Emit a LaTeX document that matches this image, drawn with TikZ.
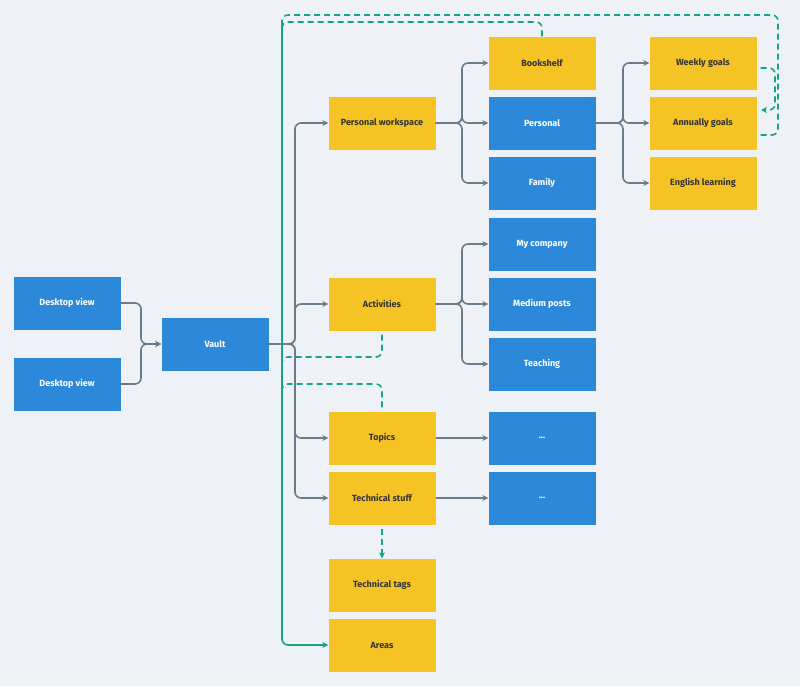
\documentclass[tikz,border=0pt]{standalone}
\usepackage{fontspec}
\setmainfont{Fira Sans}
\usetikzlibrary{arrows.meta, positioning, calc}
\definecolor{bg}{HTML}{EEF2F6}
\definecolor{ybox}{HTML}{F6C324}
\definecolor{bbox}{HTML}{2C88D9}
\definecolor{link}{HTML}{6B7B8C}
\definecolor{tag}{HTML}{14A38B}

\begin{document}
\begin{tikzpicture}[x=1pt, y=-1pt,
    card/.style={rectangle, minimum width=107pt, minimum height=53pt, font=\fontsize{9}{11}\selectfont\bfseries, inner sep=0pt},
    ycard/.style={card, fill=ybox, text=black!80},
    bcard/.style={card, fill=bbox, text=white},
    link/.style={draw=link, line width=1.6pt, rounded corners=6pt, -{Stealth[length=6pt,width=6pt]}},
    tagline/.style={draw=tag, line width=1.6pt, rounded corners=6pt, dash pattern=on 6pt off 4pt},
    tagarrow/.style={tagline, -{Stealth[length=6pt,width=6pt]}}]
    \fill[bg] (0,0) rectangle (800,686);
    \useasboundingbox (0,0) rectangle (800,686);

    \node[bcard] (dv1) at (67,303) {Desktop view};
    \node[bcard] (dv2) at (67,384) {Desktop view};
    \node[bcard] (vault) at (215,344) {Vault};

    \node[ycard] (pw) at (382,123) {Personal workspace};
    \node[ycard] (act) at (382,304) {Activities};
    \node[ycard] (top) at (382,438) {Topics};
    \node[ycard] (tech) at (382,498) {Technical stuff};
    \node[ycard] (ttags) at (382,585) {Technical tags};
    \node[ycard] (areas) at (382,645) {Areas};

    \node[ycard] (book) at (542,63) {Bookshelf};
    \node[bcard] (pers) at (542,123) {Personal};
    \node[bcard] (fam) at (542,183) {Family};
    \node[bcard] (comp) at (542,244) {My company};
    \node[bcard] (med) at (542,304) {Medium posts};
    \node[bcard] (teach) at (542,364) {Teaching};
    \node[bcard] (dots1) at (542,438) {...};
    \node[bcard] (dots2) at (542,498) {...};

    \node[ycard] (week) at (703,63) {Weekly goals};
    \node[ycard] (year) at (703,123) {Annually goals};
    \node[ycard] (eng) at (703,183) {English learning};

    % grey links
    \draw[link] (dv1.east) -- (141,303) -- (141,344) -- (vault.west);
    \draw[link] (dv2.east) -- (141,384) -- (141,344) -- (vault.west);
    \foreach \t in {pw, act, top, tech}
        \draw[link] (vault.east) -- (295,344) |- (\t.west);
    \foreach \t in {book, pers, fam}
        \draw[link] (pw.east) -- (462,123) |- (\t.west);
    \foreach \t in {comp, med, teach}
        \draw[link] (act.east) -- (462,304) |- (\t.west);
    \foreach \t in {week, year, eng}
        \draw[link] (pers.east) -- (623,123) |- (\t.west);
    \draw[link, rounded corners=0pt] (top.east) -- (dots1.west);
    \draw[link, rounded corners=0pt] (tech.east) -- (dots2.west);

    % green tag links
    \draw[tag, line width=1.6pt, rounded corners=6pt, -{Stealth[length=6pt,width=6pt]}] (282,22) -- (282,645) -- (areas.west);
    \draw[tagline] (book.north) -- (542,22) -- (282,22) -- (282,40);
    \draw[tagline] (year.east) ++(4,12) -- (778,135) -- (778,15) -- (282,15) -- (282,40);
    \draw[tagarrow] (week.east) ++(4,5) -- (775,68) -- (775,110) -- (761,110);
    \draw[tagline] (act.south) ++(0,4) -- (382,357) -- (282,357) -- (282,370);
    \draw[tagline] (top.north) ++(0,-4) -- (382,384) -- (282,384) -- (282,398);
    \draw[tagarrow] (tech.south) ++(0,4) -- (ttags.north);
\end{tikzpicture}
\end{document}
